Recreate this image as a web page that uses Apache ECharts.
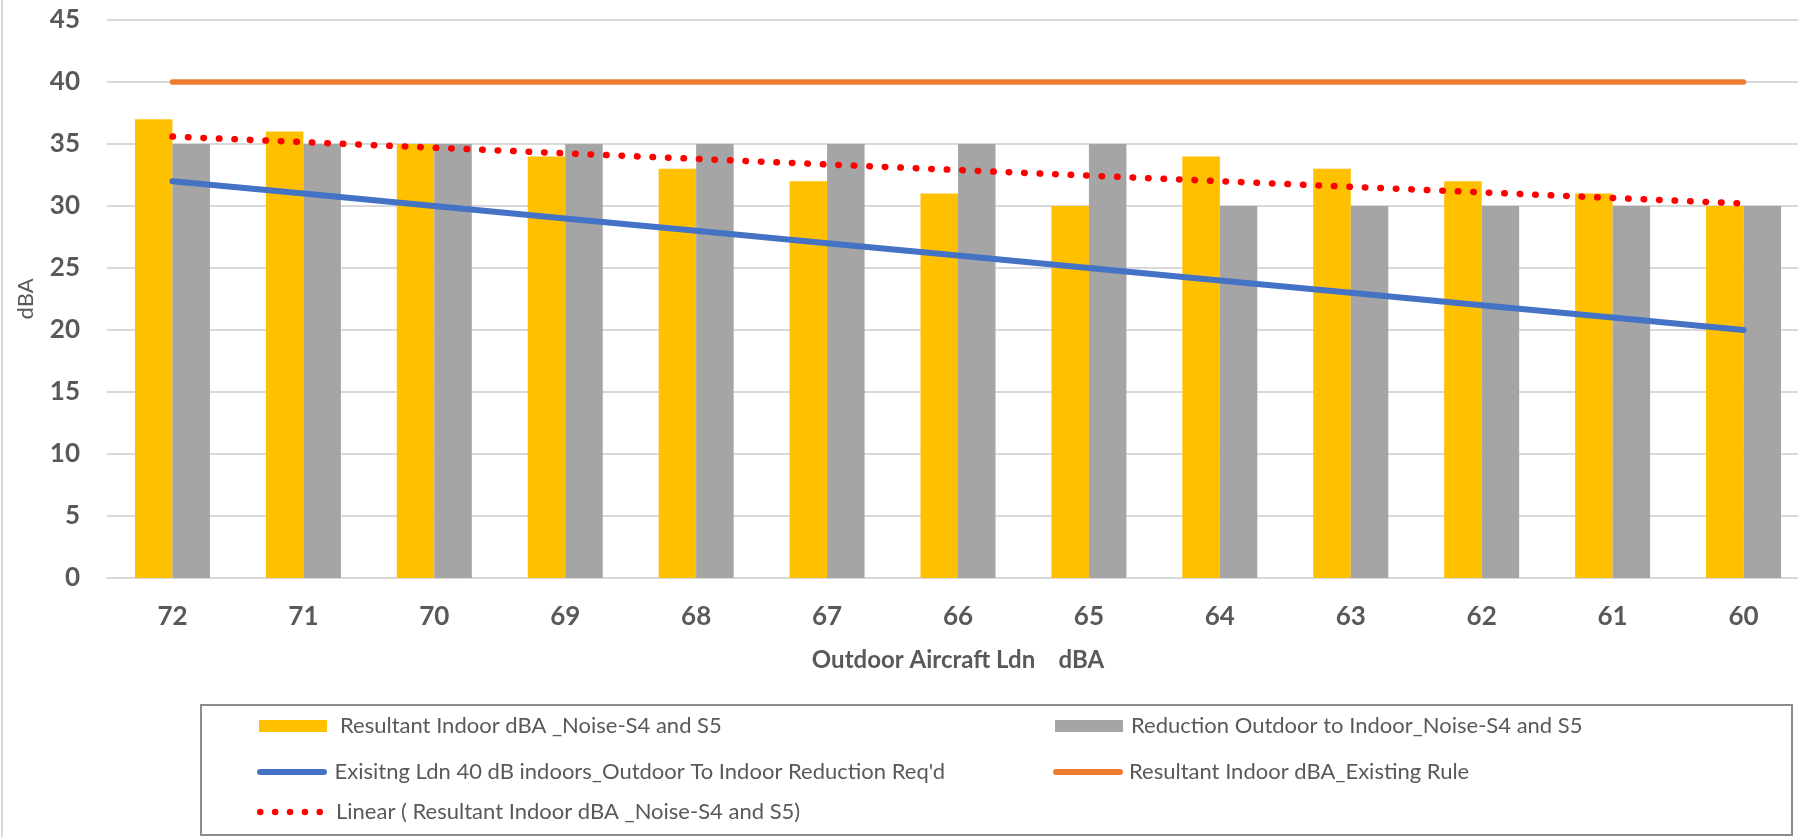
<!DOCTYPE html>
<html><head><meta charset="utf-8">
<script src="https://cdn.jsdelivr.net/npm/echarts@6/dist/echarts.min.js"></script>
<style>html,body{margin:0;padding:0;background:#fff}#c{width:1798px;height:837px}</style>
</head><body><div id="c"></div><script>
const categories = ['72','71','70','69','68','67','66','65','64','63','62','61','60'];
const resultantIndoor = [37,36,35,34,33,32,31,30,34,33,32,31,30];
const reductionOutdoorIndoor = [35,35,35,35,35,35,35,35,30,30,30,30,30];
const existingLdn40 = [32,31,30,29,28,27,26,25,24,23,22,21,20];
const existingRule = [40,40,40,40,40,40,40,40,40,40,40,40,40];
const linearTrend = [35.6,null,null,null,null,null,null,null,null,null,null,null,30.2];

const names = [
  'Resultant Indoor dBA _Noise-S4 and S5',
  'Reduction Outdoor to Indoor_Noise-S4 and S5',
  "Exisitng Ldn 40 dB indoors_Outdoor To Indoor Reduction Req'd",
  'Resultant Indoor dBA_Existing Rule',
  'Linear ( Resultant Indoor dBA _Noise-S4 and S5)'
];
const FONT = 'Lato';
const txt = '#595959';
const lineIcon = 'path://M3,0 L67,0 A3,3 0 0 1 67,6 L3,6 A3,3 0 0 1 3,0 Z';
const dotIcon = 'path://M0,3.25 A3.25,3.25 0 1 0 6.5,3.25 A3.25,3.25 0 1 0 0,3.25 Z' +
  ' M14.9,3.25 A3.25,3.25 0 1 0 21.4,3.25 A3.25,3.25 0 1 0 14.9,3.25 Z' +
  ' M29.8,3.25 A3.25,3.25 0 1 0 36.3,3.25 A3.25,3.25 0 1 0 29.8,3.25 Z' +
  ' M44.7,3.25 A3.25,3.25 0 1 0 51.2,3.25 A3.25,3.25 0 1 0 44.7,3.25 Z' +
  ' M59.5,3.25 A3.25,3.25 0 1 0 66,3.25 A3.25,3.25 0 1 0 59.5,3.25 Z';
function lg(name, icon, left, top, w, h, gap) {
  return {left: left, top: top, orient: 'horizontal', selectedMode: false, itemWidth: w, itemHeight: h,
    padding: 0, data: [{name: name, icon: icon}],
    textStyle: {fontFamily: FONT, fontSize: 22, color: txt, padding: [0, 0, 0, gap]}};
}
const chart = echarts.init(document.getElementById('c'), null, {renderer: 'canvas'});
chart.setOption({
  animation: false,
  backgroundColor: '#fff',
  grid: {left: 107, width: 1702, top: 20, bottom: 259, containLabel: false, outerBoundsMode: 'none'},
  xAxis: {
    type: 'category', data: categories,
    axisLine: {lineStyle: {color: '#D9D9D9', width: 2}},
    axisTick: {show: false},
    axisLabel: {margin: 26, fontFamily: FONT, fontSize: 26, fontWeight: 'bold', color: txt},
    name: 'Outdoor Aircraft Ldn    dBA', nameLocation: 'middle', nameGap: 70,
    nameTextStyle: {fontFamily: FONT, fontSize: 24, fontWeight: 'bold', color: txt}
  },
  yAxis: {
    type: 'value', min: 0, max: 45, interval: 5,
    axisLine: {show: false}, axisTick: {show: false},
    splitLine: {lineStyle: {color: '#D9D9D9', width: 2}},
    axisLabel: {margin: 27, fontFamily: FONT, fontSize: 26, fontWeight: 'bold', color: txt},
    name: 'dBA', nameLocation: 'middle', nameGap: 70, nameRotate: 90,
    nameTextStyle: {fontFamily: FONT, fontSize: 22, color: txt}
  },
  legend: [
    lg(names[0], 'rect', 259, 715, 68, 12, 8),
    lg(names[1], 'rect', 1055, 715, 68, 12, 3),
    lg(names[2], lineIcon, 257, 761, 71, 6, 2),
    lg(names[3], lineIcon, 1053, 761, 72, 6, 0),
    lg(names[4], dotIcon, 257, 801, 66, 6.5, 8)
  ],
  graphic: [
    {type: 'rect', shape: {x: 201, y: 705, width: 1591, height: 130}, style: {fill: 'none', stroke: '#8c8c8c', lineWidth: 2}, silent: true},
    {type: 'line', shape: {x1: 2, y1: 0, x2: 2, y2: 837}, style: {stroke: '#D9D9D9', lineWidth: 2}, silent: true}
  ],
  series: [
    {name: names[0], type: 'bar', data: resultantIndoor, barWidth: 37.5, barGap: '0%', itemStyle: {color: '#FFC000'}},
    {name: names[1], type: 'bar', data: reductionOutdoorIndoor, barWidth: 37.5, barGap: '0%', itemStyle: {color: '#A5A5A5'}},
    {name: names[2], type: 'line', data: existingLdn40, symbol: 'none', z: 3,
      lineStyle: {color: '#4472C4', width: 6, cap: 'round'}, itemStyle: {color: '#4472C4'}},
    {name: names[3], type: 'line', data: existingRule, symbol: 'none', z: 3,
      lineStyle: {color: '#ED7D31', width: 5.5, cap: 'round'}, itemStyle: {color: '#ED7D31'}},
    {name: names[4], type: 'line', data: linearTrend, connectNulls: true, symbol: 'none', z: 4,
      lineStyle: {color: '#FF0000', width: 6.5, type: [0.5, 15], cap: 'round'}, itemStyle: {color: '#FF0000'}}
  ]
});
</script></body></html>
